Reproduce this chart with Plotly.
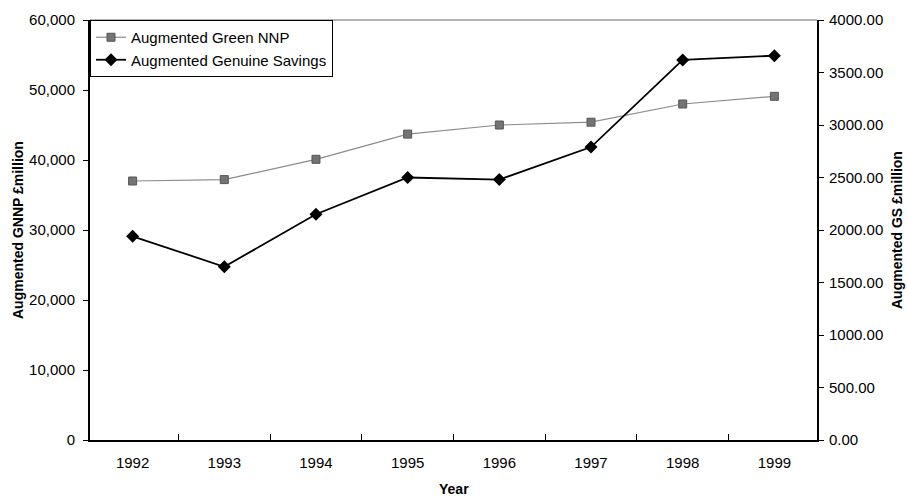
import plotly.graph_objects as go

years = ["1992", "1993", "1994", "1995", "1996", "1997", "1998", "1999"]
green_nnp = [37000, 37200, 40100, 43700, 45000, 45400, 48000, 49100]
genuine_savings = [1940, 1650, 2150, 2500, 2480, 2790, 3620, 3660]

left_ticks = [0, 10000, 20000, 30000, 40000, 50000, 60000]
left_labels = ["0", "10,000", "20,000", "30,000", "40,000", "50,000", "60,000"]
right_ticks = [0, 500, 1000, 1500, 2000, 2500, 3000, 3500, 4000]
right_labels = ["%.2f" % v for v in right_ticks]

FONT = "Liberation Sans, Arial, sans-serif"
FS = 15

fig = go.Figure()
fig.add_trace(go.Scatter(
    x=years, y=green_nnp, name="Augmented Green NNP", mode="lines+markers",
    line=dict(color="#8c8c8c", width=1.2),
    marker=dict(symbol="square", size=8, color="#747474", line=dict(color="#555555", width=1)),
    yaxis="y"))
fig.add_trace(go.Scatter(
    x=years, y=genuine_savings, name="Augmented Genuine Savings", mode="lines+markers",
    line=dict(color="#000000", width=1.8),
    marker=dict(symbol="diamond", size=10, color="#000000"),
    yaxis="y2"))

fig.update_layout(
    width=907, height=496,
    margin=dict(l=90, r=90, t=20, b=56, autoexpand=False),
    paper_bgcolor="white", plot_bgcolor="white",
    font=dict(family=FONT, size=FS, color="#000"),
    showlegend=True,
    legend=dict(x=0, y=1, xanchor="left", yanchor="top",
                bgcolor="white", bordercolor="#000", borderwidth=1,
                font=dict(family=FONT, size=FS), tracegroupgap=0,
                itemwidth=30),
    xaxis=dict(type="category", tickson="boundaries", ticks="inside", ticklen=6,
               tickcolor="#000", showline=True, linecolor="#000", linewidth=2,
               showgrid=False, automargin=False, ticklabelstandoff=8,
               tickfont=dict(family=FONT, size=FS)),
    yaxis=dict(range=[0, 60000], tickvals=left_ticks, ticktext=left_labels,
               ticks="outside", ticklen=5, tickcolor="#000",
               showline=True, linecolor="#000", linewidth=2, showgrid=False, zeroline=False,
               automargin=False, ticklabelstandoff=5,
               tickfont=dict(family=FONT, size=FS)),
    yaxis2=dict(range=[0, 4000], tickvals=right_ticks, ticktext=right_labels,
                overlaying="y", side="right",
                ticks="outside", ticklen=5, tickcolor="#000",
                showline=True, linecolor="#000", linewidth=2, showgrid=False, zeroline=False,
                automargin=False, ticklabelstandoff=2,
                tickfont=dict(family=FONT, size=FS)),
    annotations=[
        dict(text="<b>Year</b>", xref="paper", yref="paper", x=0.5, y=0, yshift=-49,
             showarrow=False, xanchor="center", yanchor="middle",
             font=dict(family=FONT, size=14)),
        dict(text="<b>Augmented GNNP £million</b>", xref="paper", yref="paper", x=0, xshift=-72,
             y=0.5, showarrow=False, textangle=-90, xanchor="center", yanchor="middle",
             font=dict(family=FONT, size=14)),
        dict(text="<b>Augmented GS £million</b>", xref="paper", yref="paper", x=1, xshift=80,
             y=0.5, showarrow=False, textangle=-90, xanchor="center", yanchor="middle",
             font=dict(family=FONT, size=14)),
    ],
)
fig.add_shape(type="line", xref="paper", yref="paper", x0=0, x1=1, y0=1, y1=1,
              line=dict(color="#666", width=1))
fig.write_html("out.html", config={"displayModeBar": False},
               post_script="document.body.style.margin='0px';document.body.style.overflow='hidden';")
